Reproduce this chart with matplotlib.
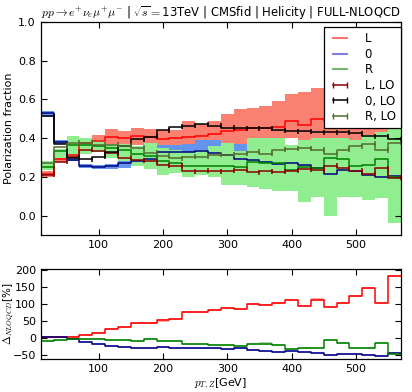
import numpy as np
import matplotlib
matplotlib.use("Agg")
import matplotlib.pyplot as plt
from matplotlib.lines import Line2D

plt.rcParams['mathtext.fontset'] = 'cm'
plt.rcParams['font.family'] = ['DejaVu Sans']
plt.rcParams['font.size'] = 8

# bin edge points (value at index k belongs to bin ending at x[k]); index 0 is left-edge value
x = [10, 30, 50, 70, 90, 110, 130, 150, 170, 190, 210, 230, 250, 270, 290,
     310, 330, 350, 370, 390, 410, 430, 450, 470, 490, 510, 530, 550, 570]

# NLO central values
L_nlo = [0.12, 0.215, 0.29, 0.315, 0.375, 0.385, 0.405, 0.40, 0.41, 0.405, 0.395, 0.40, 0.405, 0.41, 0.42,
         0.435, 0.44, 0.45, 0.455, 0.46, 0.49, 0.47, 0.50, 0.49, 0.50, 0.52, 0.53, 0.50, 0.553]
Z_nlo = [0.72, 0.528, 0.379, 0.289, 0.256, 0.25, 0.256, 0.27, 0.284, 0.293, 0.33, 0.33, 0.329, 0.336, 0.325,
         0.313, 0.293, 0.287, 0.279, 0.267, 0.27, 0.262, 0.244, 0.215, 0.236, 0.232, 0.21, 0.198, 0.205]
R_nlo = [0.18, 0.25, 0.335, 0.365, 0.365, 0.36, 0.35, 0.34, 0.32, 0.31, 0.28, 0.27, 0.255, 0.255, 0.255,
         0.255, 0.25, 0.275, 0.27, 0.27, 0.235, 0.25, 0.245, 0.295, 0.29, 0.258, 0.26, 0.29, 0.20]

# NLO uncertainty bands
L_lo_band = [0.12, 0.20, 0.275, 0.28, 0.35, 0.365, 0.37, 0.36, 0.365, 0.36, 0.35, 0.36, 0.36, 0.365, 0.375,
             0.37, 0.37, 0.38, 0.38, 0.39, 0.40, 0.39, 0.38, 0.38, 0.39, 0.388, 0.40, 0.40, 0.485]
L_hi_band = [0.12, 0.23, 0.305, 0.35, 0.40, 0.415, 0.445, 0.435, 0.455, 0.445, 0.44, 0.44, 0.49, 0.475, 0.487,
             0.525, 0.548, 0.558, 0.565, 0.59, 0.63, 0.64, 0.66, 0.68, 0.70, 0.71, 0.73, 0.75, 0.766]
Z_lo_band = [0.72, 0.51, 0.37, 0.28, 0.245, 0.24, 0.24, 0.245, 0.26, 0.27, 0.30, 0.30, 0.30, 0.30, 0.30,
             0.28, 0.27, 0.26, 0.25, 0.24, 0.24, 0.23, 0.22, 0.19, 0.21, 0.21, 0.19, 0.18, 0.18]
Z_hi_band = [0.72, 0.54, 0.39, 0.30, 0.265, 0.26, 0.265, 0.295, 0.30, 0.31, 0.365, 0.365, 0.37, 0.39, 0.39,
             0.37, 0.37, 0.33, 0.32, 0.31, 0.31, 0.30, 0.28, 0.25, 0.27, 0.26, 0.24, 0.23, 0.23]
R_lo_band = [0.18, 0.238, 0.30, 0.306, 0.32, 0.33, 0.30, 0.28, 0.255, 0.24, 0.21, 0.22, 0.20, 0.21, 0.20,
             0.158, 0.16, 0.15, 0.136, 0.128, 0.128, 0.068, 0.094, 0.0, 0.094, 0.094, 0.08, 0.09, -0.037]
R_hi_band = [0.18, 0.28, 0.345, 0.41, 0.40, 0.39, 0.37, 0.37, 0.36, 0.375, 0.35, 0.34, 0.33, 0.34, 0.36,
             0.373, 0.336, 0.40, 0.40, 0.40, 0.365, 0.39, 0.40, 0.40, 0.40, 0.39, 0.416, 0.434, 0.468]

# LO central values
L_lo = [0.13, 0.21, 0.279, 0.303, 0.34, 0.332, 0.321, 0.30, 0.285, 0.281, 0.26, 0.258, 0.229, 0.232, 0.228,
        0.231, 0.238, 0.223, 0.229, 0.227, 0.231, 0.24, 0.234, 0.257, 0.244, 0.233, 0.213, 0.244, 0.195]
Z_lo = [0.69, 0.513, 0.372, 0.298, 0.29, 0.305, 0.328, 0.36, 0.394, 0.407, 0.44, 0.458, 0.463, 0.473, 0.464,
        0.455, 0.45, 0.45, 0.45, 0.44, 0.435, 0.435, 0.43, 0.43, 0.43, 0.425, 0.41, 0.41, 0.395]
R_lo = [0.17, 0.27, 0.355, 0.375, 0.375, 0.365, 0.365, 0.36, 0.35, 0.325, 0.31, 0.295, 0.305, 0.305, 0.315,
        0.315, 0.32, 0.33, 0.32, 0.34, 0.345, 0.348, 0.34, 0.318, 0.34, 0.358, 0.372, 0.337, 0.377]
lo_err = 0.013

# ratio panel (NLO/LO - 1) in percent
dL = [0, 2, 4, 4, 10, 16, 26, 33, 44, 44, 52, 55, 77, 77, 84, 88, 85, 102, 99, 103, 112, 96, 114, 91, 105, 123, 149, 105, 184]
dZ = [0, 3, 2, -3, -12, -18, -22, -25, -28, -28, -25, -28, -29, -29, -30, -33, -30, -36, -38, -40, -38, -40, -44, -50, -46, -47, -49, -52, -44]
dR = [0, -8, -6, -3, -3, -2, -5, -6, -8, -4, -10, -8, -17, -17, -19, -19, -22, -17, -16, -20, -32, -28, -28, -7, -15, -28, -30, -14, -47]
d_band = 3

title = (r"$pp\rightarrow e^{+}\nu_{e}\mu^{+}\mu^{-}$ | $\sqrt{s}=$13TeV | CMSfid | Helicity | FULL-NLOQCD")

fig = plt.figure(figsize=(4.12, 3.92), dpi=100)
ax1 = fig.add_axes([0.099, 0.4005, 0.874, 0.5435])
ax2 = fig.add_axes([0.099, 0.084, 0.874, 0.2305])

xa = np.array(x)
# bands
ax1.fill_between(xa, L_lo_band, L_hi_band, step='pre', color='salmon', lw=0)
ax1.fill_between(xa, Z_lo_band, Z_hi_band, step='pre', color='cornflowerblue', lw=0)
ax1.fill_between(xa, R_lo_band, R_hi_band, step='pre', color='lightgreen', lw=0)
# NLO lines
ax1.plot(xa, L_nlo, drawstyle='steps-pre', color='red', lw=1.1)
ax1.plot(xa, Z_nlo, drawstyle='steps-pre', color='navy', lw=1.1)
ax1.plot(xa, R_nlo, drawstyle='steps-pre', color='green', lw=1.1)
# LO lines
for vals, col in [(L_lo, 'darkred'), (Z_lo, 'black'), (R_lo, 'darkolivegreen')]:
    ax1.plot(xa, vals, drawstyle='steps-pre', color=col, lw=1.1)
    ax1.errorbar(xa, vals, yerr=lo_err, fmt='none', ecolor=col, elinewidth=1.1, capsize=0)

handles = [Line2D([], [], color='red', alpha=0.55, lw=1.5),
           Line2D([], [], color='mediumblue', alpha=0.5, lw=1.5),
           Line2D([], [], color='green', alpha=0.55, lw=1.5),
           Line2D([], [], color='darkred', marker='|', markersize=5, lw=1.1),
           Line2D([], [], color='black', marker='|', markersize=5, lw=1.1),
           Line2D([], [], color='darkolivegreen', marker='|', markersize=5, lw=1.1)]
labels = ['L', '0', 'R', 'L, LO', '0, LO', 'R, LO']
leg = ax1.legend(handles, labels, loc='upper right', bbox_to_anchor=(1.0, 0.977),
                 fontsize=8.5, fancybox=False, edgecolor='black', framealpha=1,
                 borderaxespad=0.0, handlelength=1.8, numpoints=2,
                 labelspacing=0.22, borderpad=0.45, handletextpad=1.2)
leg.get_frame().set_linewidth(0.9)

ax1.set_xlim(10, 570)
ax1.set_ylim(-0.1, 1.0)
ax1.set_yticks([0.0, 0.2, 0.4, 0.6, 0.8, 1.0])
ax1.set_xticks([100, 200, 300, 400, 500])
ax1.set_ylabel('Polarization fraction')
ax1.yaxis.set_label_coords(-0.075, 0.5)
ax1.set_title(title, fontsize=8.4, pad=4)

# ratio
ax2.fill_between(xa, np.array(dL) - d_band, np.array(dL) + d_band, step='pre', color='red', alpha=0.35, lw=0)
ax2.fill_between(xa, np.array(dZ) - d_band, np.array(dZ) + d_band, step='pre', color='blue', alpha=0.3, lw=0)
ax2.fill_between(xa, np.array(dR) - d_band, np.array(dR) + d_band, step='pre', color='green', alpha=0.35, lw=0)
ax2.plot(xa, dL, drawstyle='steps-pre', color='red', lw=1.1)
ax2.plot(xa, dZ, drawstyle='steps-pre', color='navy', lw=1.1)
ax2.plot(xa, dR, drawstyle='steps-pre', color='green', lw=1.1)
ax2.set_xlim(10, 570)
ax2.set_ylim(-62, 205)
ax2.set_yticks([-50, 0, 50, 100, 150, 200])
ax2.set_xticks([100, 200, 300, 400, 500])
ax2.set_ylabel(r'$\Delta_{NLOQCD}$[%]', fontsize=7.5)
ax2.yaxis.set_label_coords(-0.07, 0.5)
ax2.set_xlabel(r'$p_{T,Z}$[GeV]', labelpad=2)

for ax in (ax1, ax2):
    ax.tick_params(direction='in', top=True, right=True, length=4, width=0.8, labelsize=8)
    for s in ax.spines.values():
        s.set_linewidth(0.9)

fig.savefig('out.png', dpi=100)
